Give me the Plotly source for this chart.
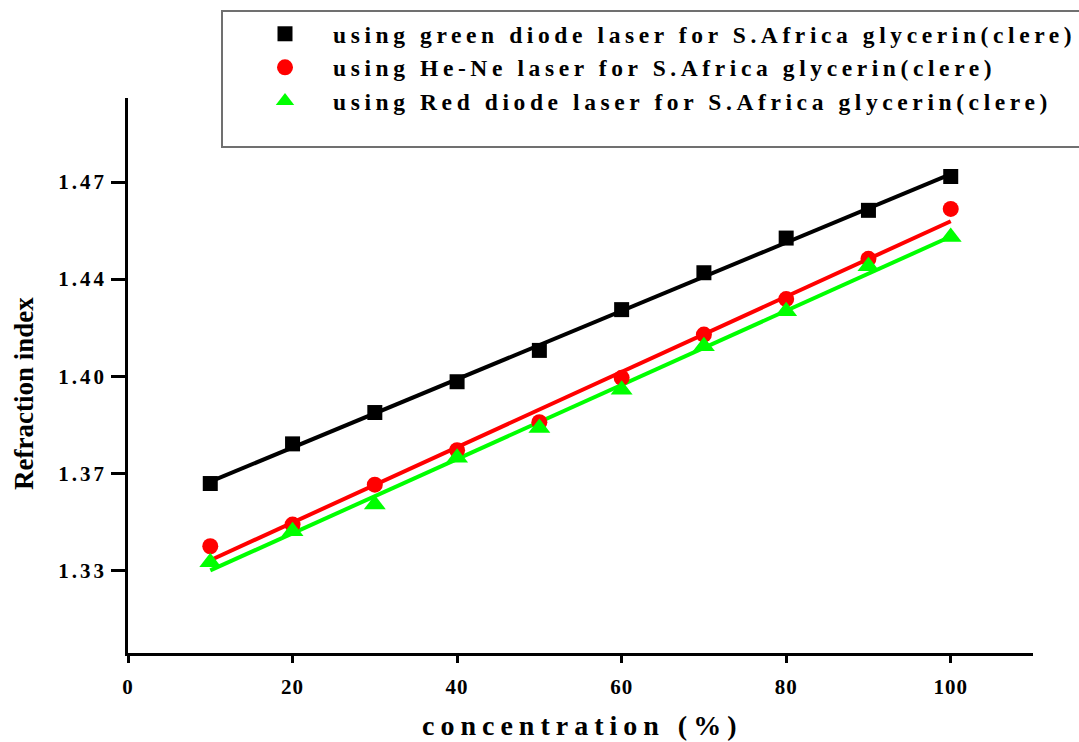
import numpy as np
import plotly.graph_objects as go

concentration = [10, 20, 30, 40, 50, 60, 70, 80, 90, 100]
green_diode = [1.3613, 1.3756, 1.3869, 1.3980, 1.4093, 1.4240, 1.4373, 1.4498, 1.4598, 1.4720]
he_ne = [1.3387, 1.3465, 1.3609, 1.3733, 1.3834, 1.3994, 1.4150, 1.4278, 1.4423, 1.4603]
red_diode = [1.3329, 1.3441, 1.3537, 1.3706, 1.3813, 1.3951, 1.4108, 1.4234, 1.4396, 1.4502]

series_names = [
    "using green diode laser for S.Africa glycerin(clere)",
    "using He-Ne laser for S.Africa glycerin(clere)",
    "using Red diode laser for S.Africa glycerin(clere)",
]
x_ticks = [0, 20, 40, 60, 80, 100]
y_tickvals = [1.33, 1.365, 1.40, 1.435, 1.47]
y_ticktext = ["1.33", "1.37", "1.40", "1.44", "1.47"]

FONT = "Liberation Serif"

fig = go.Figure()
styles = [
    (green_diode, "#000000", "square", 15),
    (he_ne, "#FF0000", "circle", 16),
    (red_diode, "#00FF00", "triangle-up", 19),
]
xs = np.array(concentration, dtype=float)
for (vals, color, sym, size), name in zip(styles, series_names):
    slope, icpt = np.polyfit(xs, np.array(vals), 1)
    fit_x = [xs.min(), xs.max()]
    fit_y = [icpt + slope * v for v in fit_x]
    fig.add_trace(go.Scatter(x=fit_x, y=fit_y, mode="lines",
                             line=dict(color=color, width=4),
                             showlegend=False, hoverinfo="skip"))
for (vals, color, sym, size), name in zip(styles, series_names):
    fig.add_trace(go.Scatter(x=concentration, y=vals, mode="markers", name=name,
                             marker=dict(color=color, symbol=sym, size=size,
                                         line=dict(width=0))))

W, H = 1079, 742
L, R, T, B = 128, 46, 98, 89
pw, ph = W - L - R, H - T - B


def px(x):
    return (x - L) / pw


def py(y):
    return (H - B - y) / ph


fig.add_shape(type="rect", xref="paper", yref="paper",
              x0=px(222), x1=px(1090), y0=py(147), y1=py(11),
              line=dict(color="#707070", width=2), fillcolor="white", layer="below")

fig.add_annotation(text="Refraction index", xref="paper", yref="paper",
                   x=px(24), y=py(394), textangle=-90, showarrow=False,
                   font=dict(family=FONT, size=27, color="black", weight="bold"),
                   xanchor="center", yanchor="middle")
fig.add_annotation(text="concentration (%)", xref="paper", yref="paper",
                   x=px(582), y=py(725), showarrow=False,
                   font=dict(family=FONT, size=28, color="black", weight="bold"),
                   xanchor="center", yanchor="middle")

fig.update_layout(
    width=W, height=H,
    margin=dict(l=L, r=R, t=T, b=B, autoexpand=False),
    paper_bgcolor="white", plot_bgcolor="white",
    font=dict(family=FONT, color="black"),
    showlegend=True,
    legend=dict(x=px(237), y=py(12), xanchor="left", yanchor="top",
                bgcolor="rgba(0,0,0,0)", borderwidth=0, itemwidth=86,
                tracegroupgap=0,
                font=dict(family=FONT, size=23.5, color="black", weight="bold")),
    xaxis=dict(range=[0, 110], tickvals=x_ticks, showline=True, linecolor="black",
               linewidth=2.5, ticks="outside", ticklen=7, tickwidth=2.5,
               tickcolor="black", showgrid=False, zeroline=False,
               ticklabelstandoff=6,
               tickfont=dict(family=FONT, size=21, color="black", weight="bold")),
    yaxis=dict(range=[1.3002, 1.5003], tickvals=y_tickvals, ticktext=y_ticktext,
               showline=True, linecolor="black", linewidth=2.5, ticks="outside",
               ticklen=14, tickwidth=2.5, tickcolor="black", showgrid=False,
               zeroline=False,
               tickfont=dict(family=FONT, size=21, color="black", weight="bold")),
)

post = """
document.body.style.margin = '0';
document.body.style.padding = '0';
var gd = document.getElementById('{plot_id}');
function spacing(){
  gd.querySelectorAll('.legendtext').forEach(function(t){t.style.letterSpacing='4.6px';});
  gd.querySelectorAll('.legend, .legend *').forEach(function(e){
    if (e.hasAttribute && e.hasAttribute('clip-path')) { e.removeAttribute('clip-path'); }
  });
  gd.querySelectorAll('.ytick text').forEach(function(t){t.style.letterSpacing='3px';});
  gd.querySelectorAll('.xtick text').forEach(function(t){t.style.letterSpacing='1px';});
  gd.querySelectorAll('.annotation-text').forEach(function(t){
    if (t.textContent.indexOf('concentration') === 0) { t.style.letterSpacing='6px'; }
  });
}
spacing();
setTimeout(spacing, 50);
"""

fig.write_html("out.html", post_script=post, config={"displayModeBar": False})
